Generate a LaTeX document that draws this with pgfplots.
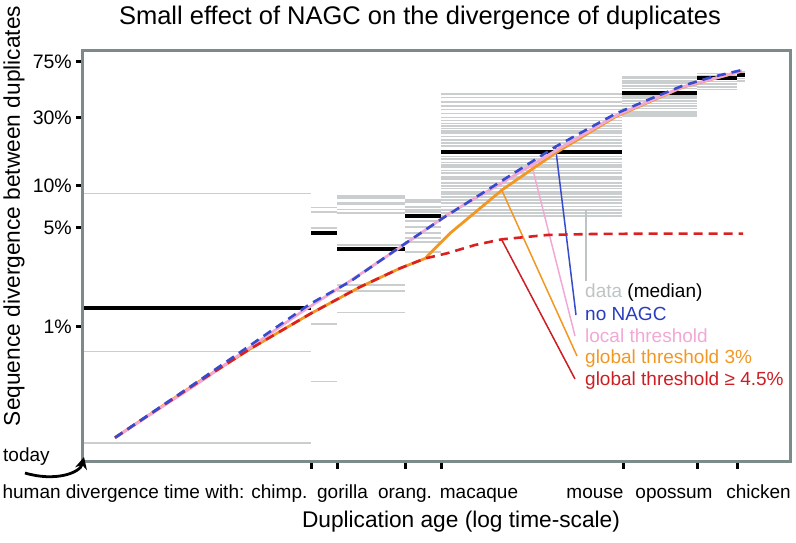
\documentclass[border=0pt]{standalone}
\usepackage{pgfplots}
\pgfplotsset{compat=1.18}
\usepackage{fontspec}
\setmainfont{Liberation Sans}
\usetikzlibrary{arrows.meta}
\definecolor{frame}{RGB}{125,138,138}
\definecolor{dgray}{RGB}{202,206,206}
\definecolor{cblue}{RGB}{55,75,205}
\definecolor{tblue}{RGB}{40,60,190}
\definecolor{cpink}{RGB}{242,168,212}
\definecolor{corange}{RGB}{242,152,34}
\definecolor{cred}{RGB}{218,32,32}
\definecolor{tred}{RGB}{205,30,35}
\definecolor{tgray}{RGB}{190,195,195}
\newcommand{\band}[3]{\pgfplotsinvokeforeach{#3}{\addplot[dgray, line width=1.6pt] coordinates {(#1,##1) (#2,##1)};}}
\newcommand{\med}[3]{\addplot[black, line width=4pt] coordinates {(#1,#3) (#2,#3)};}
\newcommand{\ft}{\fontsize{19}{22}\selectfont}
\begin{document}
\begin{tikzpicture}
\begin{axis}[name=ax, scale only axis, width=707pt, height=411pt,
  xmin=83, xmax=790, ymode=log, ymin=0.1104, ymax=89.1,
  axis line style={frame, line width=3pt},
  xtick={311,337,405,441,623,697,737}, xticklabels={},
  ytick={1,5,10,30,75}, yticklabels={1\%,5\%,10\%,30\%,75\%},
  xminorticks=false, yminorticks=false,
  tick pos=left, tick align=outside, major tick length=7pt,
  major tick style={black, line width=3pt},
  yticklabel style={font=\fontsize{19.5}{22}\selectfont, inner sep=0pt, xshift=-4pt},
  /pgf/number format/assume math mode=true,
  clip=false]
% data bands (gray) 
\band{84.5}{311}{8.778,0.6655,0.1505}
\band{311}{337}{6.988,6.505,5.013,1.045,0.4083}
\band{337}{405}{8.400,8.093,7.534,7.341,6.765,6.339,3.783,1.972,1.788,1.256}
\band{405}{441}{7.870,7.620,7.023,6.688,6.475,5.592,5.071,4.599,4.240,3.972,3.376}
\band{441}{622}{44.23,41.91,39.01,36.37,34.46,32.30,30.26,28.72,27.44,26.26,25.30,24.33,23.33,22.07,20.91,19.82,18.96,15.94,15.28,14.45,13.92,13.41,12.69,12.16,11.50,11.03,10.43,9.886,9.462,9.010,8.638,8.225,7.870,7.461,7.061,6.688,6.400,6.066}
\band{622}{697}{58.61,57.11,54.92,52.66,50.38,48.53,42.80,41.24,39.66,38.01,36.37,35.04,33.15,31.93,30.91}
\band{697}{737}{61.95,59.29,54.04,52.05,49.81,47.75}
\band{737}{745}{63.59,57.11,54.92}
% medians
\med{84.5}{311}{1.363}
\med{311}{337}{4.576}
\med{337}{405}{3.562}
\med{405}{441}{6.066}
\med{441}{622}{17.28}
\med{622}{697}{44.73}
\med{697}{737}{57.11}
\med{737}{745}{60.28}
% annotation lines
\addplot[tgray, line width=1.5pt] coordinates {(586,6.687) (586,2.105)};
\addplot[cblue, line width=1.5pt] coordinates {(555.5,18.66) (576,1.210)};
\addplot[cpink, line width=1.5pt] coordinates {(531.7,13.92) (575,0.8595)};
\addplot[corange, line width=1.5pt] coordinates {(501.7,9.265) (577,0.6207)};
\addplot[tred, line width=1.5pt] coordinates {(501.5,4.151) (575,0.4267)};
% model curves
\addplot[corange, line width=2.8pt] coordinates {(115,0.1641) (200,0.4130) (250,0.6955) (310,1.230) (360,1.909) (400,2.588) (425,3.036) (450,4.577) (490,7.870) (502,9.265) (555,16.84) (615,30.41) (682,49.17) (742,64.31)};
\addplot[cpink, line width=2.8pt] coordinates {(115,0.1641) (200,0.4064) (300,1.250) (350,2.105) (400,3.632) (450,6.370) (500,10.21) (532,13.92) (555,17.48) (615,30.91) (682,49.57) (742,64.31)};
\addplot[cred, line width=2.6pt, dash pattern=on 9pt off 6pt] coordinates {(115,0.1641) (200,0.4130) (250,0.6955) (310,1.230) (360,1.909) (400,2.588) (425,3.036) (447,3.304) (475,3.783) (502,4.151) (547,4.452) (593,4.525) (643,4.547) (743,4.547)};
\addplot[cblue, line width=2.6pt, dash pattern=on 9pt off 6pt] coordinates {(115,0.1641) (200,0.4198) (310,1.447) (350,2.081) (400,3.662) (443,5.870) (500,10.55) (555,18.66) (615,31.93) (650,40.77) (682,50.38) (712,58.33) (742,65.37)};
% legend texts
\node[anchor=base west, inner sep=0pt, font=\ft] at (axis cs:585,1.596) {\textcolor{tgray}{data} (median)};
\node[anchor=base west, inner sep=0pt, font=\ft, text=tblue] at (axis cs:585,1.115) {no NAGC};
\node[anchor=base west, inner sep=0pt, font=\ft, text=cpink] at (axis cs:585,0.7792) {local threshold};
\node[anchor=base west, inner sep=0pt, font=\ft, text=corange] at (axis cs:585,0.5447) {global threshold 3\%};
\node[anchor=base west, inner sep=0pt, font=\ft, text=tred] at (axis cs:585,0.3807) {global threshold ≥ 4.5\%};
% x labels
\node[anchor=base, inner sep=0pt, font=\ft] at (axis cs:155,0.0605) {human divergence time with: chimp.};
\node[anchor=base, inner sep=0pt, font=\ft] at (axis cs:342.5,0.0605) {gorilla};
\node[anchor=base, inner sep=0pt, font=\ft] at (axis cs:405,0.0605) {orang.};
\node[anchor=base, inner sep=0pt, font=\ft] at (axis cs:479,0.0605) {macaque};
\node[anchor=base, inner sep=0pt, font=\ft] at (axis cs:595,0.0605) {mouse};
\node[anchor=base, inner sep=0pt, font=\ft] at (axis cs:674,0.0605) {opossum};
\node[anchor=base, inner sep=0pt, font=\ft] at (axis cs:758.5,0.0605) {chicken};
\node[anchor=base west, inner sep=0pt, font=\ft] at (axis cs:3,0.1110) {today};
% titles
\node[anchor=base, inner sep=0pt, font=\fontsize{25.5}{30}\selectfont] at (axis cs:420,136.1) {Small effect of NAGC on the divergence of duplicates};
\node[anchor=base, inner sep=0pt, font=\fontsize{22.7}{27}\selectfont] at (axis cs:461,0.03771) {Duplication age (log time-scale)};
\node[anchor=base, inner sep=0pt, rotate=90, font=\fontsize{22.7}{27}\selectfont] at (axis cs:20,6.066) {Sequence divergence between duplicates};
\draw[black, line width=2.8pt, -{Stealth[length=12pt,width=12pt]}] ([shift={(-58pt,-11pt)}]rel axis cs:0,0) .. controls +(30pt,-9pt) and +(-4pt,-16pt) .. ([shift={(1pt,5pt)}]rel axis cs:0,0);
\end{axis}
\pgfresetboundingbox
\path[use as bounding box] ([shift={(-83pt,-81pt)}]ax.south west) rectangle ([shift={(6pt,51pt)}]ax.north east);
\end{tikzpicture}
\end{document}
